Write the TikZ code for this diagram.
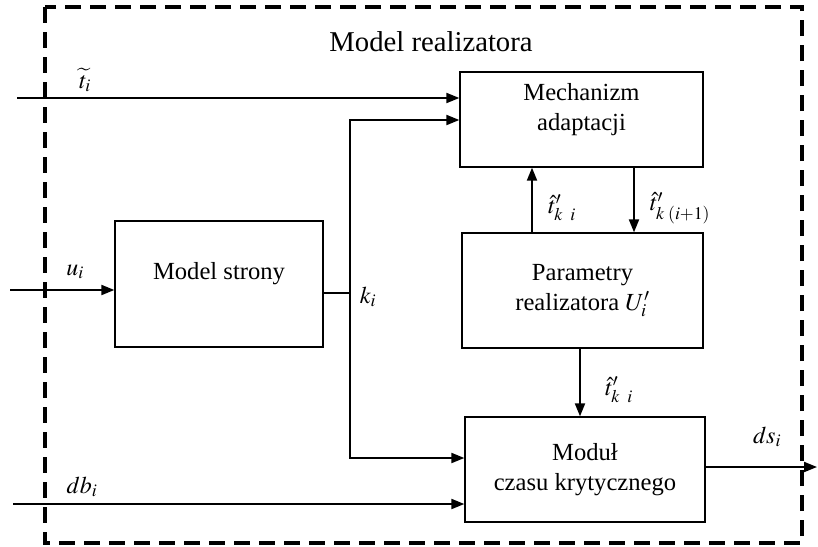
\documentclass[tikz,border=0pt]{standalone}
\usepackage{mathptmx}
\usepackage[no-math]{fontspec}
\setmainfont{Liberation Serif}
\usetikzlibrary{arrows.meta}

\begin{document}
\begin{tikzpicture}[x=1pt, y=-1pt,
  box/.style={draw, line width=1.3pt, font=\fontsize{24.6}{30}\selectfont, align=center},
  lab/.style={font=\fontsize{24}{28}\selectfont},
  arr/.style={-{Triangle[length=13pt,width=10pt]}, line width=2pt},
  wire/.style={line width=1.6pt}]
\useasboundingbox (0,0) rectangle (818,546);

% ramka realizatora
\draw[line width=4pt, dash pattern=on 16pt off 9pt] (45,7) rectangle (802,543);
\node[font=\fontsize{28.7}{32}\selectfont] (title) at (431,42) {Model realizatora};

\node[box, minimum width=243pt, minimum height=95pt,
  label={[box, draw=none, yshift=10pt]center:Mechanizm\\adaptacji}] (mech) at (581.5,119.5) {};
\node[box, minimum width=208pt, minimum height=126pt,
  label={[box, draw=none, yshift=10pt]center:Model strony}] (strona) at (219,284) {};
\node[box, minimum width=241pt, minimum height=115pt] (par) at (582.5,290.5) {Parametry\\realizatora $U_i'$};
\node[box, minimum width=240pt, minimum height=105pt] (modul) at (585,469.5) {Modu\l\\czasu krytycznego};

% wejscia i wyjscie
\coordinate (tin) at (17,98);
\coordinate (uin) at (10,290);
\coordinate (dbin) at (13,504);
\coordinate (kjoin) at (350,293);
\coordinate (ktop) at (350,120);
\coordinate (kbot) at (350,458);
\coordinate (dsout) at (817,467);

\draw[arr] (tin) -- (tin -| mech.west);
\draw[arr] (uin) -- (uin -| strona.west);
\draw[arr] (dbin) -- (dbin -| modul.west);
\draw[wire] (strona.east |- kjoin) -- (kjoin);
\draw[arr] (kjoin) -- (ktop) -- (ktop -| mech.west);
\draw[arr] (kjoin) -- (kbot) -- (kbot -| modul.west);
\draw[arr] (modul.east |- dsout) -- (dsout);

% sprzezenie
\draw[arr] ([xshift=-50.5pt]par.north) -- ([xshift=-49.5pt]mech.south);
\draw[arr] ([xshift=52.5pt]mech.south) -- ([xshift=51.5pt]par.north);
\draw[arr] ([xshift=-2.5pt]par.south) -- ([xshift=-5pt]modul.north);

% etykiety
\node[lab] (tlab) at (85,80) {$\widetilde{t}_i$};
\node[lab] (ulab) at (75,272) {$u_i$};
\node[lab] (dblab) at (82,487) {$db_i$};
\node[lab] (klab) at (368,297) {$k_i$};
\node[lab] (hat1) at (562,208) {$\hat{t}'_{k\;\;i}$};
\node[lab] (hat2) at (680,208) {$\hat{t}'_{k\;(i+1)}$};
\node[lab] (hat3) at (619,390) {$\hat{t}'_{k\;\;i}$};
\node[lab] (dslab) at (767,437) {$ds_i$};
\end{tikzpicture}
\end{document}
